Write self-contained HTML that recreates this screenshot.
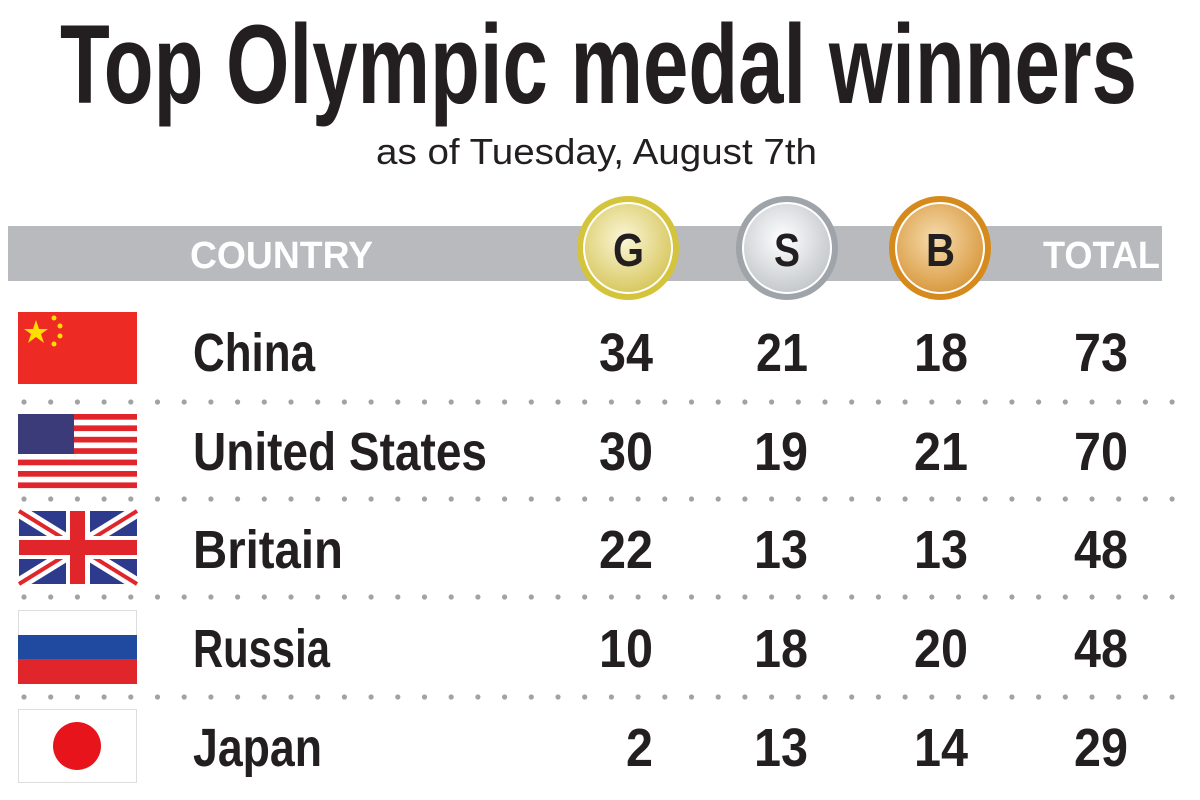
<!DOCTYPE html>
<html><head><meta charset="utf-8"><style>
html,body{margin:0;padding:0;background:#fff;width:1200px;height:800px;overflow:hidden}
text{font-family:"Liberation Sans Narrow","Liberation Sans",sans-serif}
</style></head><body>
<svg width="1200" height="800" viewBox="0 0 1200 800" xmlns="http://www.w3.org/2000/svg">
<defs>
<radialGradient id="gg" cx="45%" cy="40%" r="60%"><stop offset="0" stop-color="#fbf6d8"/><stop offset="1" stop-color="#d8c860"/></radialGradient>
<radialGradient id="sg" cx="45%" cy="40%" r="60%"><stop offset="0" stop-color="#ffffff"/><stop offset="1" stop-color="#c4c8cc"/></radialGradient>
<radialGradient id="bg" cx="45%" cy="40%" r="60%"><stop offset="0" stop-color="#f6dcae"/><stop offset="1" stop-color="#d99a40"/></radialGradient>
</defs>
<text x="60" y="103" font-size="112" font-weight="bold" fill="#231f20" textLength="1077" lengthAdjust="spacingAndGlyphs">Top Olympic medal winners</text>
<text x="376" y="164" font-size="36" fill="#231f20" textLength="441" lengthAdjust="spacingAndGlyphs">as of Tuesday, August 7th</text>
<rect x="8" y="226" width="1154" height="55" fill="#b8babd"/>
<text x="190" y="268" font-size="38" font-weight="bold" fill="#fff" textLength="183" lengthAdjust="spacingAndGlyphs">COUNTRY</text>
<text x="1043" y="268" font-size="38" font-weight="bold" fill="#fff" textLength="117" lengthAdjust="spacingAndGlyphs">TOTAL</text>
<g>
<ellipse cx="628" cy="248" rx="51" ry="52" fill="#d4c43c"/><ellipse cx="628" cy="248" rx="44" ry="45" fill="url(#gg)" stroke="#fff" stroke-width="2"/>
<text x="613" y="266" font-size="46" font-weight="bold" fill="#231f20" textLength="31" lengthAdjust="spacingAndGlyphs">G</text>
<ellipse cx="787" cy="248" rx="51" ry="52" fill="#9ea4a9"/><ellipse cx="787" cy="248" rx="44" ry="45" fill="url(#sg)" stroke="#fff" stroke-width="2"/>
<text x="774" y="266" font-size="46" font-weight="bold" fill="#231f20" textLength="26" lengthAdjust="spacingAndGlyphs">S</text>
<ellipse cx="940" cy="248" rx="51" ry="52" fill="#d68a1c"/><ellipse cx="940" cy="248" rx="44" ry="45" fill="url(#bg)" stroke="#fff" stroke-width="2"/>
<text x="926" y="266" font-size="46" font-weight="bold" fill="#231f20" textLength="29" lengthAdjust="spacingAndGlyphs">B</text>
</g>
<g fill="#a0a2a5" id="dots"></g>
<rect x="18" y="312" width="119" height="72" fill="#ee2a24"/>
<polygon points="36,320 39,329 48,329 41,334 44,343 36,337 28,343 31,334 24,329 33,329" fill="#ffde00"/>
<circle cx="54" cy="318" r="2.5" fill="#ffde00"/><circle cx="60" cy="326" r="2.5" fill="#ffde00"/><circle cx="60" cy="336" r="2.5" fill="#ffde00"/><circle cx="54" cy="344" r="2.5" fill="#ffde00"/>
<g>
<rect x="18" y="414" width="119" height="74" fill="#fff"/>
<g fill="#e0262b">
<rect x="18" y="414" width="119" height="5.7"/><rect x="18" y="425.4" width="119" height="5.7"/><rect x="18" y="436.8" width="119" height="5.7"/><rect x="18" y="448.2" width="119" height="5.7"/><rect x="18" y="459.6" width="119" height="5.7"/><rect x="18" y="471" width="119" height="5.7"/><rect x="18" y="482.4" width="119" height="5.7"/>
</g>
<rect x="18" y="414" width="56" height="40" fill="#3c3b7a"/>
</g>
<g>
<rect x="19" y="511" width="118" height="73" fill="#2e3a8c"/>
<line x1="19" y1="511" x2="137" y2="584" stroke="#fff" stroke-width="13"/><line x1="137" y1="511" x2="19" y2="584" stroke="#fff" stroke-width="13"/>
<line x1="19" y1="511" x2="137" y2="584" stroke="#e0262b" stroke-width="4"/><line x1="137" y1="511" x2="19" y2="584" stroke="#e0262b" stroke-width="4"/>
<rect x="19" y="536" width="118" height="23" fill="#fff"/><rect x="66" y="511" width="24" height="73" fill="#fff"/>
<rect x="19" y="540" width="118" height="15" fill="#e0262b"/><rect x="70" y="511" width="15" height="73" fill="#e0262b"/>
</g>
<rect x="18.5" y="610.5" width="118" height="73" fill="#fff" stroke="#ddd"/>
<rect x="18" y="635" width="119" height="24" fill="#1f4aa0"/><rect x="18" y="659" width="119" height="25" fill="#e0262b"/>
<rect x="18.5" y="709.5" width="118" height="73" fill="#fff" stroke="#ddd"/>
<circle cx="77" cy="746" r="24" fill="#e8141c"/>
<g font-size="54" font-weight="bold" fill="#231f20">
<text x="193" y="371" textLength="122" lengthAdjust="spacingAndGlyphs">China</text>
<text x="193" y="470" textLength="294" lengthAdjust="spacingAndGlyphs">United States</text>
<text x="193" y="568" textLength="150" lengthAdjust="spacingAndGlyphs">Britain</text>
<text x="193" y="667" textLength="137" lengthAdjust="spacingAndGlyphs">Russia</text>
<text x="193" y="766" textLength="129" lengthAdjust="spacingAndGlyphs">Japan</text>
</g>
<g font-size="54" font-weight="bold" fill="#231f20">
<text x="599" y="371" textLength="54" lengthAdjust="spacingAndGlyphs">34</text><text x="756" y="371" textLength="52" lengthAdjust="spacingAndGlyphs">21</text><text x="914" y="371" textLength="54" lengthAdjust="spacingAndGlyphs">18</text><text x="1074" y="371" textLength="54" lengthAdjust="spacingAndGlyphs">73</text>
<text x="599" y="470" textLength="54" lengthAdjust="spacingAndGlyphs">30</text><text x="754" y="470" textLength="54" lengthAdjust="spacingAndGlyphs">19</text><text x="914" y="470" textLength="54" lengthAdjust="spacingAndGlyphs">21</text><text x="1074" y="470" textLength="54" lengthAdjust="spacingAndGlyphs">70</text>
<text x="599" y="568" textLength="54" lengthAdjust="spacingAndGlyphs">22</text><text x="754" y="568" textLength="54" lengthAdjust="spacingAndGlyphs">13</text><text x="914" y="568" textLength="54" lengthAdjust="spacingAndGlyphs">13</text><text x="1074" y="568" textLength="54" lengthAdjust="spacingAndGlyphs">48</text>
<text x="599" y="667" textLength="54" lengthAdjust="spacingAndGlyphs">10</text><text x="754" y="667" textLength="54" lengthAdjust="spacingAndGlyphs">18</text><text x="914" y="667" textLength="54" lengthAdjust="spacingAndGlyphs">20</text><text x="1074" y="667" textLength="54" lengthAdjust="spacingAndGlyphs">48</text>
<text x="626" y="766" textLength="27" lengthAdjust="spacingAndGlyphs">2</text><text x="754" y="766" textLength="54" lengthAdjust="spacingAndGlyphs">13</text><text x="914" y="766" textLength="54" lengthAdjust="spacingAndGlyphs">14</text><text x="1074" y="766" textLength="54" lengthAdjust="spacingAndGlyphs">29</text>
</g>
</svg>
<script>
var g=document.getElementById('dots'),ys=[402,499,597,697],s='';
ys.forEach(function(y){for(var x=24;x<1185;x+=26.7){s+='<circle cx="'+x.toFixed(1)+'" cy="'+y+'" r="2.6"/>';}});
g.innerHTML=s;
</script>
</body></html>
